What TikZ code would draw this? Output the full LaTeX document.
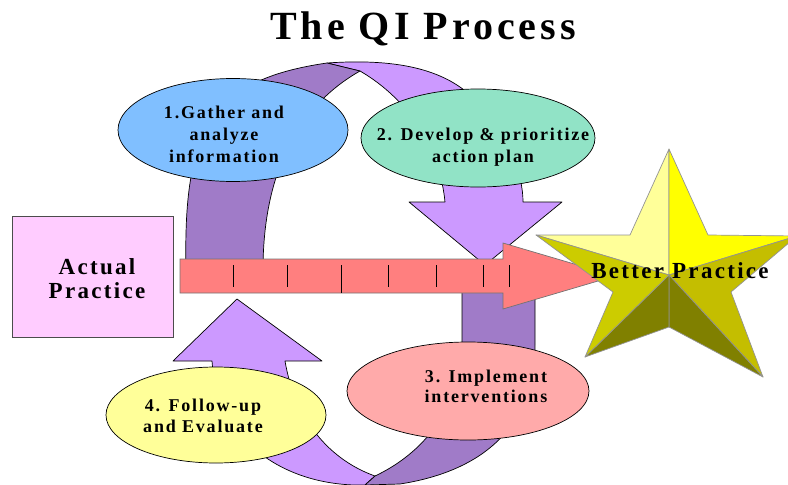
\documentclass[tikz,border=0pt]{standalone}
\usepackage{fontspec}
\newfontfamily\qifont[LetterSpace=10]{Liberation Serif}
\usepackage{tikz}
\usetikzlibrary{shapes.geometric}
\definecolor{qiBlue}{HTML}{80BFFF}
\definecolor{qiGreen}{HTML}{91E3C6}
\definecolor{qiPink}{HTML}{FFAAAA}
\definecolor{qiYellow}{HTML}{FFFF99}
\definecolor{qiBox}{HTML}{FFCCFF}
\definecolor{qiRed}{HTML}{FF7F7F}
\definecolor{qiDark}{HTML}{A07BC8}
\definecolor{qiLight}{HTML}{CC99FF}
\definecolor{starLight}{HTML}{FFFF99}
\definecolor{starYellow}{HTML}{FFFF00}
\definecolor{starOlive}{HTML}{CCCC00}
\definecolor{starMid}{HTML}{C4BE00}
\definecolor{starDark}{HTML}{808000}

\begin{document}
\begin{tikzpicture}[x=1pt, y=-1pt,
    band/.style={draw=black, line width=0.7pt, line join=round},
    stage/.style={ellipse, draw=black, line width=0.7pt, inner sep=0pt},
    facet/.style={draw=gray!85, line width=0.7pt, line join=round},
    lbl/.style={font=\qifont\bfseries\fontsize{18}{22}\selectfont, align=center, inner sep=0pt}]
    \clip (0,0) rectangle (788,485);

    \node[lbl, anchor=base, font=\qifont\bfseries\fontsize{40}{44}\selectfont] (title) at (423,39) {The QI Process};

    % upper loop
    \filldraw[band, fill=qiLight] (327,63) .. controls (400,58) and (450,70) .. (480,105)
        .. controls (510,140) and (523,175) .. (523,202) -- (562,202) -- (485,265) -- (409,202) -- (445,202)
        .. controls (440,150) and (410,100) .. (360,71) -- cycle;
    \filldraw[band, fill=qiDark] (186,270) .. controls (183,130) and (210,80) .. (327,63) -- (360,71)
        .. controls (300,105) and (263,170) .. (263,270) -- cycle;

    % lower loop
    \filldraw[band, fill=qiLight] (237,299) -- (322,361) -- (285,361) .. controls (295,420) and (330,460) .. (375,476)
        -- (365,485) .. controls (290,487) and (218,445) .. (212,361) -- (173,361) -- cycle;
    \filldraw[band, fill=qiDark] (462,285) -- (535,285) -- (535,345) .. controls (535,420) and (490,470) .. (400,484)
        -- (365,485) -- (375,476) .. controls (430,450) and (462,400) .. (462,343) -- cycle;

    % main arrow
    \filldraw[fill=qiRed, draw=gray!90!black, line width=0.7pt] (180,259) -- (503,259) -- (503,243) -- (615,276)
        -- (503,309) -- (503,293) -- (180,293) -- cycle;
    \foreach \x in {233,287,388,436,483,509}
        \draw[line width=0.6pt] (\x,265) -- (\x,287);
    \draw[line width=0.6pt] (341,265) -- (341,293);

    % star
    \coordinate (sc) at (669,275);
    \coordinate (p0) at (669,149);
    \coordinate (i0) at (708,235);
    \coordinate (p1) at (797,236);
    \coordinate (i1) at (731,292);
    \coordinate (p2) at (763,377);
    \coordinate (i2) at (669,327);
    \coordinate (p3) at (585,357);
    \coordinate (i3) at (613,292);
    \coordinate (p4) at (536,235);
    \coordinate (i4) at (630,235);
    \filldraw[facet, fill=starLight] (sc) -- (p0) -- (i4) -- (p4) -- cycle;
    \filldraw[facet, fill=starYellow] (sc) -- (p0) -- (i0) -- (p1) -- cycle;
    \filldraw[facet, fill=starMid] (sc) -- (p1) -- (i1) -- (p2) -- cycle;
    \filldraw[facet, fill=starDark] (sc) -- (p2) -- (i2) -- cycle;
    \filldraw[facet, fill=starDark] (sc) -- (i2) -- (p3) -- cycle;
    \filldraw[facet, fill=starOlive] (sc) -- (p3) -- (i3) -- (p4) -- cycle;

    % stages
    \node[stage, fill=qiBlue, minimum width=230pt, minimum height=103pt] (gather) at (233,130) {};
    \node[stage, fill=qiGreen, minimum width=234pt, minimum height=98pt] (develop) at (478,138) {};
    \node[stage, fill=qiPink, minimum width=242pt, minimum height=98pt] (implement) at (468,391) {};
    \node[stage, fill=qiYellow, minimum width=220pt, minimum height=96pt] (follow) at (216,415) {};
    \node[draw=black!70, fill=qiBox, line width=0.7pt, minimum width=161pt, minimum height=121pt] (actual) at (92.5,276.5) {};

    \node[lbl] (gatherTxt) at (224,134) {1.Gather and\\analyze\\information};
    \node[lbl] (developTxt) at (483,147) {2. Develop \& prioritize\\action plan};
    \node[lbl, font=\qifont\bfseries\fontsize{18}{20}\selectfont] (implementTxt) at (486,386) {3. Implement\\interventions};
    \node[lbl, font=\qifont\bfseries\fontsize{18}{21}\selectfont] (followTxt) at (203,416) {4. Follow-up\\and Evaluate};
    \node[lbl, font=\qifont\bfseries\fontsize{23}{24}\selectfont] (actualTxt) at (97,279) {Actual\\Practice};
    \node[lbl, anchor=base, font=\qifont\bfseries\fontsize{23}{24}\selectfont] (better) at (680,278) {Better Practice};
\end{tikzpicture}
\end{document}
